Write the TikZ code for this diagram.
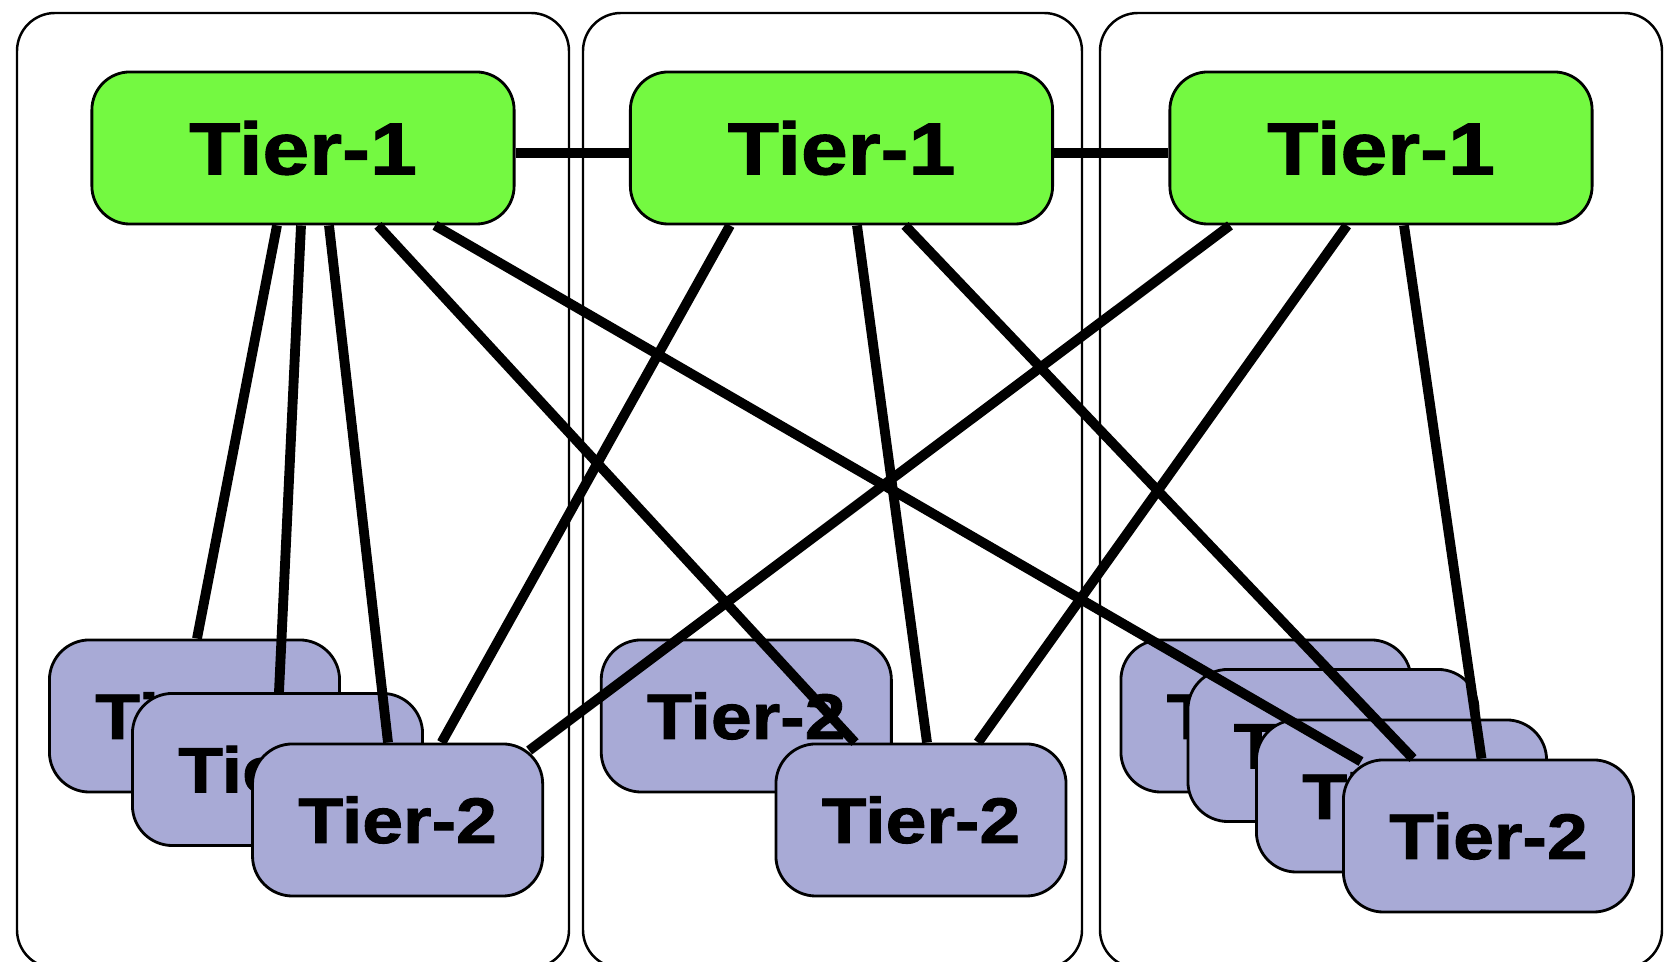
\documentclass[tikz,border=0pt]{standalone}
\usepackage{fontspec}
\usepackage{tikz}
\usetikzlibrary{calc}
\newfontfamily\tierfont{Liberation Sans}[FakeStretch=1.14, BoldFeatures={FakeBold=1.4}]
\definecolor{tiergreen}{RGB}{116,249,65}
\definecolor{tierblue}{RGB}{168,170,214}

\begin{document}
\begin{tikzpicture}[x=0.01cm, y=-0.01cm,
        group/.style={draw=black, line width=0.7pt, rounded corners=0.38cm},
        tierone/.style={shape=rectangle, draw=black, line width=0.8pt, rounded corners=0.38cm,
            fill=tiergreen, minimum width=4.22cm, minimum height=1.52cm,
            font=\tierfont\bfseries\fontsize{21}{25}\selectfont},
        tiertwo/.style={shape=rectangle, draw=black, line width=0.8pt, rounded corners=0.4cm,
            fill=tierblue, minimum width=2.9cm, minimum height=1.52cm,
            font=\tierfont\bfseries\fontsize{18.3}{22}\selectfont},
        link/.style={line width=2.8pt}]
        \useasboundingbox (0,0) rectangle (1665,962);

        % groups
        \draw[group] (17,13) rectangle (569,968);
        \draw[group] (583,13) rectangle (1082,968);
        \draw[group] (1100,13) rectangle (1662,968);

        \node[tierone] (T1a) at (303,148) {Tier-1};
        \node[tierone] (T1b) at (841.5,148) {Tier-1};
        \node[tierone] (T1c) at (1381,148) {Tier-1};

        % tier-2, back to front
        \node[tiertwo] (T2La) at (194.5,716) {Tier-2};
        \node[tiertwo] (T2Lb) at (277.5,769.5) {Tier-2};
        \node[tiertwo] (T2Lc) at (397.6,820) {Tier-2};
        \node[tiertwo] (T2Ma) at (746.3,716) {Tier-2};
        \node[tiertwo] (T2Mb) at (921,820) {Tier-2};
        \node[tiertwo] (T2Ra) at (1266,716) {Tier-2};
        \node[tiertwo] (T2Rb) at (1333,745.5) {Tier-2};
        \node[tiertwo] (T2Rc) at (1401.5,796) {Tier-2};
        \node[tiertwo] (T2Rd) at (1488.5,836) {Tier-2};

        \path [link] ([yshift=-0.05cm]T1a.east) edge ([yshift=-0.05cm]T1b.west);
        \path [link] ([yshift=-0.05cm]T1b.east) edge ([yshift=-0.05cm]T1c.west);

        \path [link] ($(T1a.south)+(-26,0)$) edge ($(T2La.north)+(2.5,0)$);
        \path [link] ($(T1a.south)+(-2,0)$) edge ($(T2Lb.north)+(1.5,0)$);
        \path [link] ($(T1a.south)+(26,0)$) edge ($(T2Lc.north)+(-9.6,0)$);
        \path [link] ($(T1a.south)+(75,0)$) edge ($(T2Mb.north)+(-66,0)$);
        \path [link] ($(T1a.south)+(132,0)$) edge ($(T2Rd.north west)+(19,3)$);

        \path [link] ($(T1b.south)+(-111.5,0)$) edge ($(T2Lc.north)+(44,0)$);
        \path [link] ($(T1b.south)+(15.5,0)$) edge ($(T2Mb.north)+(6,0)$);
        \path [link] ($(T1b.south)+(63.5,0)$) edge ($(T2Rd.north)+(-75.5,0)$);

        \path [link] ($(T1c.south)+(-151,0)$) edge ($(T2Lc.north east)+(-15,8)$);
        \path [link] ($(T1c.south)+(-34,0)$) edge ($(T2Mb.north)+(57,0)$);
        \path [link] ($(T1c.south)+(23,0)$) edge ($(T2Rd.north)+(-7,0)$);
    \end{tikzpicture}
\end{document}
